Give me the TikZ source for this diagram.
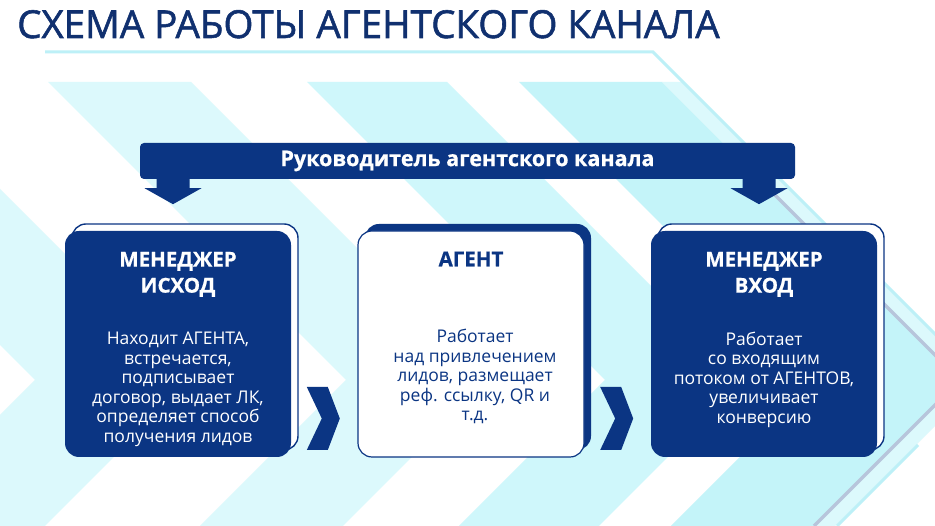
\documentclass[tikz,border=0pt]{standalone}
\usepackage{fontspec}
\setmainfont{Open Sans}[BoldFeatures={FakeBold=0.7}]
\newfontfamily\titlefont[FakeBold=1.4]{Open Sans}
\usetikzlibrary{positioning,calc}
\definecolor{navy}{HTML}{0B3583}
\definecolor{titleblue}{HTML}{10306F}
\definecolor{bgpale}{HTML}{DCF9FC}
\definecolor{bgmid}{HTML}{CFF7FB}
\definecolor{bglight}{HTML}{C4F4F9}
\definecolor{greyline}{HTML}{B7C5DB}
\definecolor{cyanline}{HTML}{BDF0F7}

\begin{document}
\begin{tikzpicture}[x=1pt, y=1pt, node distance = 293pt, on grid,
  card/.style = {rectangle, rounded corners=14pt, minimum width=226pt, minimum height=226pt, inner sep=0pt},
  darkcard/.style = {card, fill=navy},
  whitecard/.style = {card, fill=white, draw=navy, line width=1.2pt},
  backline/.style = {card, fill=white, draw=navy, line width=1.4pt},
  backfill/.style = {card, fill=navy},
  head/.style = {font=\bfseries\fontsize{20.5}{26}\selectfont, align=center, inner sep=0pt, anchor=north},
  body/.style = {font=\fontsize{17.5}{19.5}\selectfont, align=center, inner sep=0pt, anchor=north}]
\useasboundingbox (0,0) rectangle (935,526);
\fill[white] (0,0) rectangle (935,526);
% background chevrons
\begin{scope}
\clip (0,0) rectangle (935,444);
\foreach \a/\b/\c in {-263/-107/bgpale, 48/191/bgpale, 307/447/bgmid, 519/662/bglight, 662/683/bgpale}
  \fill[\c] (\a,444) -- (\b,444) -- (\b+298,146) -- (\b+152,0) -- (\a+152,0) -- (\a+298,146) -- cycle;
\draw[greyline, line width=3.5pt] (760,346) -- (960,146) -- (814,0);
\draw[cyanline, line width=3pt] (918,81) -- (837,0);
\end{scope}
\draw[cyanline, line width=3pt] (45,474) -- (653,474) -- (981,146);

\node[anchor=base west, inner sep=0pt, text=titleblue, font=\titlefont\fontsize{38.5}{40}\selectfont] (title) at (17,488) {СХЕМА РАБОТЫ АГЕНТСКОГО КАНАЛА};
\node[fill=navy, rounded corners=4pt, minimum width=655pt, minimum height=36pt, inner sep=0pt, text=white, font=\bfseries\fontsize{21.5}{24}\selectfont] (bn) at (467.5,365) {Руководитель агентского канала};

% cards
\node[backline] (miB) at (185,189) {};
\node[backfill] (agB) [right = of miB] {};
\node[backline] (mvB) [right = of agB] {};
\node[darkcard] (mi) [below left = 7pt and 7pt of miB] {};
\node[whitecard] (ag) [right = of mi] {};
\node[darkcard] (mv) [right = of ag] {};

\node[head, text=white] (miH) at ([yshift=-21pt]mi.north) {МЕНЕДЖЕР\\ИСХОД};
\node[head, text=navy] (agH) at ([yshift=-21pt]ag.north) {АГЕНТ};
\node[head, text=white] (mvH) at ([yshift=-21pt]mv.north) {МЕНЕДЖЕР\\ВХОД};

\node[body, text=white] (miT) at ([yshift=-101pt]mi.north) {Находит АГЕНТА,\\встречается,\\подписывает\\договор, выдает ЛК,\\определяет способ\\получения лидов};
\node[body, text=navy] (agT) at ([shift={(4pt,-99pt)}]ag.north) {Работает\\над привлечением\\лидов, размещает\\реф. ссылку, QR и\\т.д.};
\node[body, text=white] (mvT) at ([yshift=-101pt]mv.north) {Работает\\со входящим\\потоком от АГЕНТОВ,\\увеличивает\\конверсию};

% arrows
\foreach \n in {mi,mv}
  \fill[navy] ($(bn.south -| \n)+(-21.5,1)$) -- ++(0,-10) -- ++(-12,0) -- ++(28.5,-16) -- ++(28.5,16) -- ++(-12,0) -- ++(0,10) -- cycle;
\foreach \l/\r in {mi/ag, ag/mv}
  \fill[navy] ($(\l.east)!0.5!(\r.west)+(-17.5,-43)$) -- ++(21,0) -- ++(12,-31.5) -- ++(-12,-31.5) -- ++(-21,0) -- ++(15,31.5) -- cycle;
\end{tikzpicture}
\end{document}
